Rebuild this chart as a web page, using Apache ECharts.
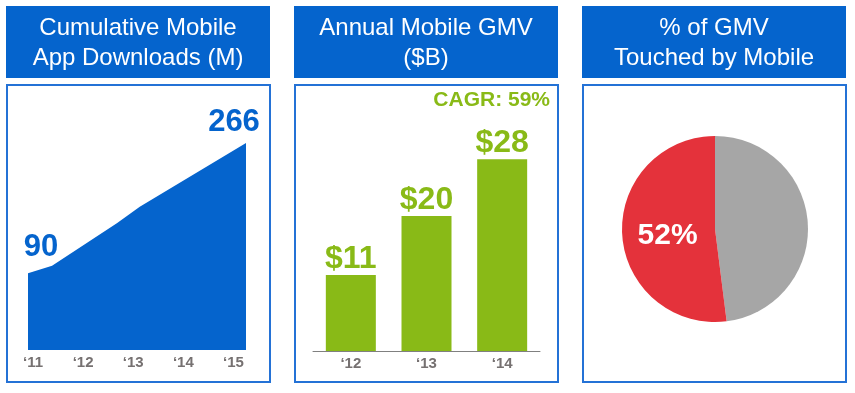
<!DOCTYPE html>
<html>
<head>
<meta charset="utf-8">
<script src="https://cdn.jsdelivr.net/npm/echarts@6.0.0/dist/echarts.min.js"></script>
<style>
html,body{margin:0;padding:0;background:#fff;}
#chart{width:855px;height:393px;}
</style>
</head>
<body>
<div id="chart"></div>
<script>
// ---- Data ----
// Panel 1: cumulative mobile app downloads (M), x = year position
var downloadYears = [2010.9, 2011.38, 2012.68, 2013.13, 2015.25];
var downloadValues = [90, 100, 158, 180, 266];
var downloadTickYears = [2011, 2012, 2013, 2014, 2015];
var downloadTickLabels = ['‘11', '‘12', '‘13', '‘14', '‘15'];

// Panel 2: annual mobile GMV ($B)
var gmvCategories = ['‘12', '‘13', '‘14'];
var gmvValues = [11.1, 19.7, 28.0];
var gmvLabels = ['$11', '$20', '$28'];
var cagrText = 'CAGR: 59%';

// Panel 3: % of GMV touched by mobile
var pieNames = ['Other', 'Mobile'];
var pieValues = [48, 52];

// Panel titles
var panelTitles = [
  'Cumulative Mobile\nApp Downloads (M)',
  'Annual Mobile GMV\n($B)',
  '% of GMV\nTouched by Mobile'
];

// ---- Styles ----
var BLUE = '#0564CD';
var BORDER = '#2472D6';
var GREEN = '#89BA17';
var RED = '#E4323B';
var GRAY = '#A6A6A6';
var AXISGRAY = '#767171';
var FONT = '"Liberation Sans", Arial, sans-serif';

var panelX = [6, 294, 582];
var panelW = 264;

var graphics = [];
panelX.forEach(function (x, i) {
  graphics.push({
    type: 'rect', z: 0,
    shape: { x: x, y: 6, width: panelW, height: 72 },
    style: { fill: BLUE }
  });
  graphics.push({
    type: 'text', z: 1,
    style: {
      text: panelTitles[i], x: x + panelW / 2, y: 43,
      align: 'center', verticalAlign: 'middle',
      fill: '#fff', fontSize: 24, fontFamily: FONT, lineHeight: 30
    }
  });
  graphics.push({
    type: 'rect', z: 0,
    shape: { x: x + 1, y: 85, width: panelW - 1, height: 297 },
    style: { fill: 'none', stroke: BORDER, lineWidth: 2 }
  });
});
graphics.push({
  type: 'text', z: 1,
  style: {
    text: cagrText, x: 550, y: 100, align: 'right', verticalAlign: 'middle',
    fill: GREEN, fontSize: 21, fontWeight: 'bold', fontFamily: FONT
  }
});

var areaData = downloadYears.map(function (yr, i) {
  var item = { value: [yr, downloadValues[i]] };
  if (i === 0) {
    item.label = { show: true, position: 'top', offset: [13, -5] };
  } else if (i === downloadYears.length - 1) {
    item.label = { show: true, position: 'top', offset: [-12, 0] };
  }
  return item;
});

var chart = echarts.init(document.getElementById('chart'), null, { renderer: 'canvas' });
chart.setOption({
  animation: false,
  backgroundColor: '#fff',
  graphic: graphics,
  grid: [
    { left: 28, right: 855 - 246, top: 118, bottom: 43 },
    { left: 313, right: 855 - 540, top: 145.5, bottom: 42 }
  ],
  xAxis: [
    {
      type: 'value', gridIndex: 0, min: 2010.9, max: 2015.25,
      axisLine: { show: false }, axisTick: { show: false }, splitLine: { show: false },
      axisLabel: {
        customValues: downloadTickYears,
        margin: 5,
        color: AXISGRAY, fontSize: 15, fontWeight: 'bold', fontFamily: FONT,
        formatter: function (v) {
          var idx = downloadTickYears.indexOf(Math.round(v));
          return idx >= 0 ? downloadTickLabels[idx] : '';
        }
      }
    },
    {
      type: 'category', gridIndex: 1, data: gmvCategories,
      axisLine: { show: true, lineStyle: { color: '#808080', width: 1 } },
      axisTick: { show: false },
      axisLabel: { margin: 5, color: AXISGRAY, fontSize: 15, fontWeight: 'bold', fontFamily: FONT }
    }
  ],
  yAxis: [
    { type: 'value', gridIndex: 0, min: -14, max: 300, show: false, splitLine: { show: false } },
    { type: 'value', gridIndex: 1, min: 0, max: 30, show: false, splitLine: { show: false } }
  ],
  series: [
    {
      type: 'line', xAxisIndex: 0, yAxisIndex: 0,
      data: areaData,
      symbol: 'circle', symbolSize: 0, showSymbol: true,
      lineStyle: { width: 0, color: BLUE },
      itemStyle: { color: BLUE },
      areaStyle: { color: BLUE, opacity: 1, origin: 'start' },
      label: {
        show: false, color: BLUE, fontSize: 31, fontWeight: 'bold', fontFamily: FONT,
        formatter: function (p) { return String(p.value[1]); }
      },
      silent: true
    },
    {
      type: 'bar', xAxisIndex: 1, yAxisIndex: 1,
      data: gmvValues, barWidth: 50,
      itemStyle: { color: GREEN },
      label: {
        show: true, position: 'top', distance: 0,
        color: GREEN, fontSize: 32, fontWeight: 'bold', fontFamily: FONT,
        formatter: function (p) { return gmvLabels[p.dataIndex]; }
      }
    },
    {
      type: 'pie', center: [715, 229], radius: 93,
      startAngle: 90, clockwise: true,
      data: pieNames.map(function (n, i) {
        return {
          name: n, value: pieValues[i],
          itemStyle: { color: i === 0 ? GRAY : RED },
          label: i === 0 ? { show: false } : {
            show: true, position: 'inside', offset: [2, 4],
            color: '#fff', fontSize: 30, fontWeight: 'bold', fontFamily: FONT,
            formatter: function (p) { return p.value + '%'; }
          }
        };
      }),
      labelLine: { show: false },
      emphasis: { disabled: true }
    }
  ]
});
</script>
</body>
</html>
